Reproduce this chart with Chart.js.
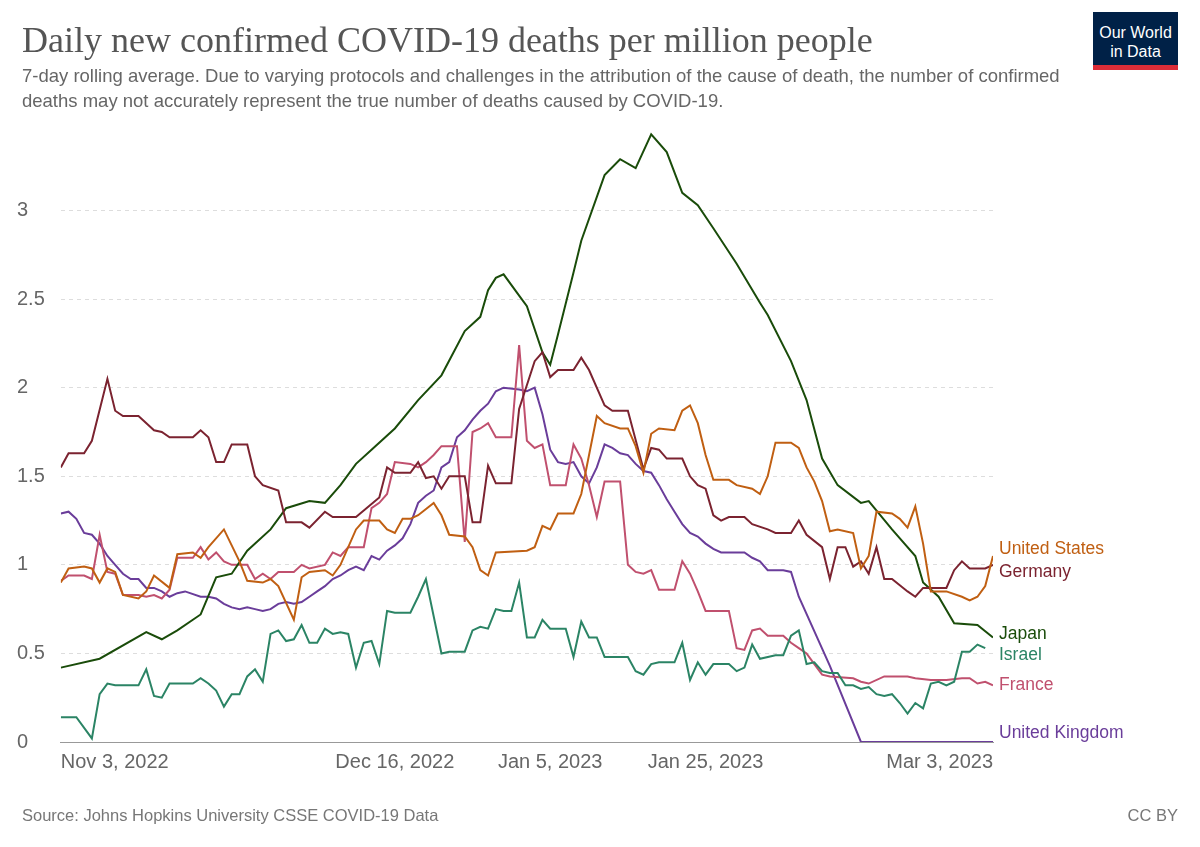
<!DOCTYPE html>
<html>
<head>
<meta charset="utf-8">
<script src="https://cdn.jsdelivr.net/npm/chart.js@4"></script>
<style>
  body { margin: 0; width: 1200px; height: 847px; background: #fff; font-family: "Liberation Sans", sans-serif; position: relative; overflow: hidden; }
  #title { position: absolute; left: 22px; top: 19px; font-family: "Liberation Serif", serif; font-size: 36px; color: #555; }
  #sub { position: absolute; left: 22px; top: 63px; width: 1060px; font-size: 18.5px; line-height: 25px; color: #666; }
  #logo { position: absolute; left: 1093px; top: 12px; width: 85px; height: 58px; background: #002147; color: #fff; font-size: 16px; line-height: 19px; text-align: center; box-sizing: border-box; padding-top: 11px; border-bottom: 5px solid #dc2d38; }
  #src { position: absolute; left: 22px; top: 806px; font-size: 16.5px; color: #777; }
  #cc { position: absolute; right: 22px; top: 806px; font-size: 16.5px; color: #777; }
  #wrap { position: absolute; left: 0; top: 0; width: 1200px; height: 847px; }
</style>
</head>
<body>
<div id="wrap"><canvas id="chart"></canvas></div>
<div id="title">Daily new confirmed COVID-19 deaths per million people</div>
<div id="sub">7-day rolling average. Due to varying protocols and challenges in the attribution of the cause of death, the number of confirmed deaths may not accurately represent the true number of deaths caused by COVID-19.</div>
<div id="logo">Our World<br>in Data</div>
<div id="src">Source: Johns Hopkins University CSSE COVID-19 Data</div>
<div id="cc">CC BY</div>
<script>
// Days since Nov 3, 2022 (x) and deaths per million (y)
const tickDays = [0, 43, 63, 83, 120];
const tickLabels = ['Nov 3, 2022', 'Dec 16, 2022', 'Jan 5, 2023', 'Jan 25, 2023', 'Mar 3, 2023'];

const japan = [[0,0.42],[5,0.47],[11,0.62],[13,0.58],[15,0.63],[18,0.72],[20,0.93],[22,0.95],[24,1.08],[27,1.2],[29,1.32],[32,1.36],[34,1.35],[36,1.45],[38,1.57],[40,1.65],[43,1.77],[46,1.93],[49,2.07],[52,2.32],[54,2.4],[55,2.55],[56,2.62],[57,2.64],[59,2.52],[60,2.46],[62,2.2],[63,2.13],[64,2.3],[66,2.65],[67,2.83],[70,3.2],[72,3.29],[74,3.24],[76,3.43],[78,3.33],[80,3.1],[82,3.03],[84,2.9],[87,2.7],[90,2.48],[91,2.41],[94,2.15],[96,1.93],[98,1.6],[100,1.45],[103,1.35],[104,1.36],[107,1.2],[110,1.05],[111,0.9],[113,0.82],[115,0.67],[118,0.66],[120,0.59]];
const germany = [[0,1.55],[1,1.63],[3,1.63],[4,1.7],[6,2.05],[7,1.87],[8,1.84],[10,1.84],[12,1.76],[13,1.75],[14,1.72],[17,1.72],[18,1.76],[19,1.72],[20,1.58],[21,1.58],[22,1.68],[24,1.68],[25,1.5],[26,1.45],[28,1.42],[29,1.24],[31,1.24],[32,1.21],[34,1.3],[35,1.27],[38,1.27],[41,1.38],[42,1.55],[43,1.52],[45,1.52],[46,1.58],[47,1.49],[48,1.5],[49,1.43],[50,1.5],[52,1.5],[53,1.24],[54,1.24],[55,1.56],[56,1.46],[58,1.46],[59,1.88],[61,2.15],[62,2.2],[63,2.06],[64,2.1],[66,2.1],[67,2.17],[68,2.1],[70,1.9],[71,1.87],[73,1.87],[75,1.54],[76,1.66],[77,1.65],[78,1.6],[80,1.6],[81,1.5],[82,1.45],[83,1.43],[84,1.28],[85,1.25],[86,1.27],[88,1.27],[89,1.23],[91,1.2],[92,1.18],[94,1.18],[95,1.25],[96,1.17],[98,1.1],[99,0.92],[100,1.1],[101,1.1],[102,0.99],[103,1.02],[104,0.95],[105,1.1],[106,0.92],[107,0.92],[109,0.85],[110,0.82],[111,0.87],[114,0.87],[115,0.97],[116,1.02],[117,0.98],[119,0.98],[120,1.0]];
const usa = [[0,0.9],[1,0.98],[3,0.99],[4,0.98],[5,0.9],[6,0.98],[7,0.96],[8,0.83],[10,0.81],[11,0.85],[12,0.94],[14,0.87],[15,1.06],[17,1.07],[18,1.04],[19,1.1],[21,1.2],[23,1.02],[24,0.91],[26,0.9],[27,0.92],[28,0.88],[30,0.69],[31,0.93],[32,0.96],[34,0.97],[35,0.94],[36,1.0],[38,1.2],[39,1.25],[41,1.25],[42,1.2],[43,1.18],[44,1.26],[45,1.26],[46,1.28],[48,1.35],[49,1.28],[50,1.17],[52,1.16],[53,1.1],[54,0.97],[55,0.94],[56,1.07],[60,1.08],[61,1.1],[62,1.22],[63,1.2],[64,1.29],[66,1.29],[67,1.4],[69,1.84],[70,1.8],[72,1.77],[73,1.77],[74,1.67],[75,1.52],[76,1.74],[77,1.77],[79,1.76],[80,1.87],[81,1.9],[82,1.8],[83,1.62],[84,1.48],[86,1.48],[87,1.45],[89,1.43],[90,1.4],[91,1.5],[92,1.69],[94,1.69],[95,1.66],[96,1.55],[97,1.47],[98,1.36],[99,1.19],[100,1.2],[102,1.18],[103,0.98],[104,1.05],[105,1.3],[107,1.29],[108,1.26],[109,1.21],[110,1.33],[111,1.12],[112,0.85],[114,0.85],[116,0.82],[117,0.8],[118,0.82],[119,0.88],[120,1.05]];
const uk = [[0,1.29],[1,1.3],[2,1.26],[3,1.18],[4,1.17],[5,1.12],[6,1.05],[7,1.0],[8,0.95],[9,0.92],[10,0.92],[11,0.87],[12,0.87],[13,0.85],[14,0.82],[15,0.84],[16,0.85],[18,0.82],[19,0.82],[20,0.81],[21,0.78],[22,0.76],[23,0.75],[24,0.76],[25,0.75],[26,0.74],[27,0.75],[28,0.78],[29,0.79],[30,0.78],[31,0.79],[32,0.82],[33,0.85],[34,0.88],[35,0.92],[36,0.94],[37,0.97],[38,0.99],[39,0.97],[40,1.05],[41,1.03],[42,1.08],[43,1.11],[44,1.15],[45,1.23],[46,1.35],[47,1.39],[48,1.42],[49,1.55],[50,1.58],[51,1.72],[52,1.76],[53,1.82],[54,1.87],[55,1.91],[56,1.98],[57,2.0],[59,1.99],[60,1.98],[61,2.0],[62,1.85],[63,1.65],[64,1.58],[65,1.57],[66,1.58],[67,1.5],[68,1.46],[69,1.55],[70,1.68],[71,1.66],[72,1.63],[73,1.62],[74,1.57],[75,1.53],[76,1.52],[77,1.45],[78,1.37],[79,1.3],[80,1.23],[81,1.18],[82,1.16],[83,1.12],[84,1.09],[85,1.07],[88,1.07],[89,1.04],[90,1.02],[91,0.97],[93,0.97],[94,0.96],[95,0.82],[99,0.43],[103,0],[120,0]];
const france = [[0,0.91],[1,0.94],[3,0.94],[4,0.92],[5,1.17],[6,0.96],[7,0.95],[8,0.83],[10,0.83],[11,0.82],[12,0.83],[13,0.81],[14,0.86],[15,1.04],[17,1.04],[18,1.1],[19,1.03],[20,1.07],[21,1.02],[22,1.0],[24,1.0],[25,0.92],[26,0.95],[27,0.92],[28,0.96],[30,0.96],[31,1.0],[32,0.98],[34,1.0],[35,1.07],[36,1.05],[37,1.1],[39,1.1],[40,1.32],[41,1.35],[42,1.4],[43,1.58],[45,1.57],[46,1.55],[47,1.58],[48,1.62],[49,1.67],[51,1.67],[52,1.13],[53,1.75],[54,1.77],[55,1.8],[56,1.72],[58,1.72],[59,2.24],[60,1.7],[61,1.66],[62,1.68],[63,1.45],[65,1.45],[66,1.68],[67,1.6],[68,1.45],[69,1.27],[70,1.47],[72,1.47],[73,1.0],[74,0.96],[75,0.95],[76,0.97],[77,0.86],[79,0.86],[80,1.02],[81,0.95],[82,0.85],[83,0.74],[86,0.74],[87,0.53],[88,0.52],[89,0.63],[90,0.64],[91,0.6],[93,0.6],[94,0.56],[95,0.53],[96,0.5],[97,0.44],[98,0.38],[99,0.37],[102,0.36],[103,0.34],[104,0.33],[106,0.37],[109,0.37],[110,0.36],[112,0.35],[114,0.35],[116,0.36],[117,0.36],[118,0.33],[119,0.34],[120,0.32]];
const israel = [[0,0.14],[2,0.14],[4,0.02],[5,0.27],[6,0.33],[7,0.32],[10,0.32],[11,0.41],[12,0.26],[13,0.25],[14,0.33],[17,0.33],[18,0.36],[19,0.33],[20,0.29],[21,0.2],[22,0.27],[23,0.27],[24,0.37],[25,0.41],[26,0.34],[27,0.61],[28,0.63],[29,0.57],[30,0.58],[31,0.66],[32,0.56],[33,0.56],[34,0.64],[35,0.61],[36,0.62],[37,0.61],[38,0.42],[39,0.56],[40,0.57],[41,0.44],[42,0.74],[43,0.73],[45,0.73],[46,0.82],[47,0.92],[49,0.5],[50,0.51],[52,0.51],[53,0.63],[54,0.65],[55,0.64],[56,0.75],[57,0.74],[58,0.74],[59,0.9],[60,0.59],[61,0.59],[62,0.69],[63,0.64],[65,0.64],[66,0.48],[67,0.68],[68,0.59],[69,0.59],[70,0.48],[73,0.48],[74,0.4],[75,0.38],[76,0.44],[77,0.45],[79,0.45],[80,0.56],[81,0.35],[82,0.45],[83,0.38],[84,0.44],[86,0.44],[87,0.4],[88,0.42],[89,0.55],[90,0.47],[92,0.49],[93,0.49],[94,0.6],[95,0.63],[96,0.44],[97,0.45],[98,0.4],[99,0.39],[100,0.39],[101,0.32],[102,0.32],[103,0.3],[104,0.31],[105,0.27],[106,0.26],[107,0.27],[108,0.22],[109,0.16],[110,0.22],[111,0.19],[112,0.33],[113,0.34],[114,0.32],[115,0.34],[116,0.51],[117,0.51],[118,0.55],[119,0.53]];

const series = [
    { name: 'United States', data: usa, color: '#c05f12', labelAt: 1.09 },
    { name: 'Germany', data: germany, color: '#7b2330', labelAt: 0.96 },
    { name: 'Japan', data: japan, color: '#1a4c0a', labelAt: 0.61 },
    { name: 'Israel', data: israel, color: '#2b8465', labelAt: 0.49 },
    { name: 'France', data: france, color: '#c0506e', labelAt: 0.32 },
    { name: 'United Kingdom', data: uk, color: '#6a3d9a', labelAt: 0.05 },
];

// Series names to the right of the plot
const endLabels = {
    id: 'endLabels',
    afterDatasetsDraw(chart) {
        const { ctx, chartArea, scales } = chart;
        ctx.save();
        ctx.font = '17.5px "Liberation Sans"';
        ctx.textBaseline = 'middle';
        series.forEach(s => {
            ctx.fillStyle = s.color;
            ctx.fillText(s.name, chartArea.right + 6, scales.y.getPixelForValue(s.labelAt));
        });
        ctx.restore();
    }
};

new Chart(document.getElementById('chart'), {
    type: 'line',
    data: {
        datasets: series.map(s => ({
            label: s.name,
            data: s.data.map(([x, y]) => ({ x, y })),
            borderColor: s.color,
            borderWidth: 2,
            pointRadius: 0,
            tension: 0,
        }))
    },
    options: {
        responsive: true,
        maintainAspectRatio: false,
        animation: false,
        layout: { padding: { left: 17, right: 207, top: 122, bottom: 71 } },
        plugins: { legend: { display: false }, tooltip: { enabled: false } },
        scales: {
            x: {
                type: 'linear',
                min: 0,
                max: 120,
                afterBuildTicks: (axis) => { axis.ticks = tickDays.map(v => ({ value: v })); },
                ticks: {
                    align: 'inner',
                    autoSkip: false,
                    maxRotation: 0,
                    font: { size: 20, family: 'Liberation Sans' },
                    color: '#666',
                    padding: 2,
                    callback: (v) => tickLabels[tickDays.indexOf(v)],
                },
                grid: { display: false, drawOnChartArea: false, drawTicks: true, tickLength: 6, color: '#999' },
                border: { display: true, color: '#999', width: 1 },
            },
            y: {
                min: 0,
                max: 3.5,
                afterBuildTicks: (axis) => { axis.ticks = [0, 0.5, 1, 1.5, 2, 2.5, 3].map(v => ({ value: v })); },
                ticks: {
                    font: { size: 20, family: 'Liberation Sans' },
                    color: '#666',
                    padding: 8,
                    crossAlign: 'far',
                    callback: (v) => String(v),
                },
                grid: { color: '#ddd', drawTicks: false },
                border: { display: false, dash: [4, 4] },
            }
        }
    },
    plugins: [endLabels]
});
</script>
</body>
</html>
